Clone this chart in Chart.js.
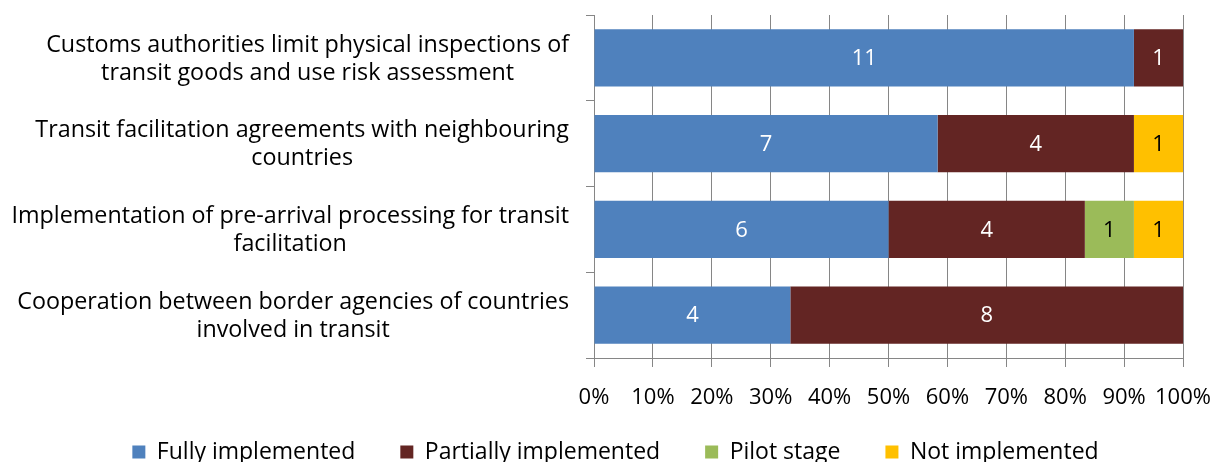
<!DOCTYPE html>
<html>
<head>
<meta charset="utf-8">
<script src="https://cdn.jsdelivr.net/npm/chart.js@4/dist/chart.umd.min.js"></script>
<style>
  html, body { margin: 0; padding: 0; background: #ffffff; }
  #wrap { width: 1215px; height: 462px; position: relative; }
</style>
</head>
<body>
<div id="wrap"><canvas id="c" width="1215" height="462"></canvas></div>
<script>
const categories = [
  ["Customs authorities limit physical inspections of", "transit goods and use risk assessment"],
  ["Transit facilitation agreements with neighbouring", "countries"],
  ["Implementation of pre-arrival processing for transit", "facilitation"],
  ["Cooperation between border agencies of countries", "involved in transit"]
];
const seriesNames = ["Fully implemented", "Partially implemented", "Pilot stage", "Not implemented"];
const fullyImplemented     = [11, 7, 6, 4];
const partiallyImplemented = [1, 4, 4, 8];
const pilotStage           = [0, 0, 1, 0];
const notImplemented       = [0, 1, 1, 0];
const xTickValues = [0, 10, 20, 30, 40, 50, 60, 70, 80, 90, 100];

const seriesCounts = [fullyImplemented, partiallyImplemented, pilotStage, notImplemented];
const seriesColors = ["#4F81BD", "#632523", "#9BBB59", "#FFC000"];
const labelColors = ["#ffffff", "#ffffff", "#000000", "#000000"];
const totals = categories.map((_, i) => seriesCounts.reduce((s, arr) => s + arr[i], 0));

const FONT = "'Open Sans'";
const FS = 22;      // tick / value font
const FSC = 23.3;   // category font
const FSL = 23;     // legend font
const LEG_PAD = 45;
const GRID = "#868686";

const datasets = seriesCounts.map((arr, k) => ({
  label: seriesNames[k],
  data: arr.map((v, i) => v / totals[i] * 100),
  counts: arr,
  backgroundColor: seriesColors[k],
  borderWidth: 0,
  barPercentage: 0.665,
  categoryPercentage: 1.0
}));

const valueLabels = {
  id: 'valueLabels',
  afterDatasetsDraw(chart) {
    const ctx = chart.ctx;
    ctx.save();
    ctx.font = FS + "px " + FONT;
    ctx.textAlign = "center";
    ctx.textBaseline = "middle";
    chart.data.datasets.forEach((ds, k) => {
      const meta = chart.getDatasetMeta(k);
      meta.data.forEach((el, i) => {
        const c = ds.counts[i];
        if (!c) return;
        const p = el.getCenterPoint();
        ctx.fillStyle = labelColors[k];
        ctx.fillText(String(c), p.x, p.y + 1);
      });
    });
    ctx.restore();
  }
};

const catLabels = {
  id: 'catLabels',
  afterDraw(chart) {
    const ctx = chart.ctx;
    const y = chart.scales.y;
    ctx.save();
    ctx.font = FSC + "px " + FONT;
    ctx.fillStyle = "#000000";
    ctx.textAlign = "center";
    ctx.textBaseline = "middle";
    const rightEdge = 569;
    const lh = 28;
    categories.forEach((lines, i) => {
      const cy = y.getPixelForValue(i);
      const w = Math.max(...lines.map(l => ctx.measureText(l).width));
      const cx = rightEdge - w / 2;
      const startY = cy - (lines.length - 1) * lh / 2 + 1;
      lines.forEach((l, j) => ctx.fillText(l, cx, startY + j * lh));
    });
    ctx.restore();
  }
};

const legendPlace = {
  id: 'legendPlace',
  afterLayout(chart) {
    const lg = chart.legend;
    const top = 452 - LEG_PAD - FSL / 2;
    lg.top = top;
    lg.bottom = chart.height + 40;
    lg.height = lg.bottom - lg.top;
    lg.left += 8;
    lg.right += 8;
  }
};

Chart.defaults.font.family = FONT;
Chart.defaults.font.size = FS;
Chart.defaults.color = "#000000";

new Chart(document.getElementById('c'), {
  type: 'bar',
  data: { labels: categories.map(l => l.join(' ')), datasets },
  options: {
    indexAxis: 'y',
    responsive: false,
    animation: false,
    layout: { padding: { top: 15, right: 0, left: 0, bottom: 0 } },
    scales: {
      x: {
        stacked: true,
        min: 0, max: 100,
        afterBuildTicks(scale) { scale.ticks = xTickValues.map(v => ({ value: v })); },
        afterFit(scale) { scale.height = 52; scale.paddingRight = 32; scale.paddingLeft = 0; },
        ticks: { callback: v => v + "%", padding: 18, maxRotation: 0, autoSkip: false, color: "#000" },
        grid: { color: GRID, lineWidth: 1, tickLength: 9, drawTicks: true },
        border: { color: GRID, width: 1 }
      },
      y: {
        stacked: true,
        afterFit(scale) { scale.width = 594; },
        ticks: { display: false },
        grid: { drawOnChartArea: false, drawTicks: true, tickLength: 8, color: GRID, offset: true },
        border: { color: GRID, width: 1 }
      }
    },
    plugins: {
      legend: {
        position: 'bottom',
        maxHeight: 52,
        labels: { boxWidth: 13, boxHeight: 13, padding: LEG_PAD, color: "#000", font: { size: FSL, family: FONT } }
      },
      tooltip: { enabled: false }
    }
  },
  plugins: [valueLabels, catLabels, legendPlace]
});
</script>
</body>
</html>
